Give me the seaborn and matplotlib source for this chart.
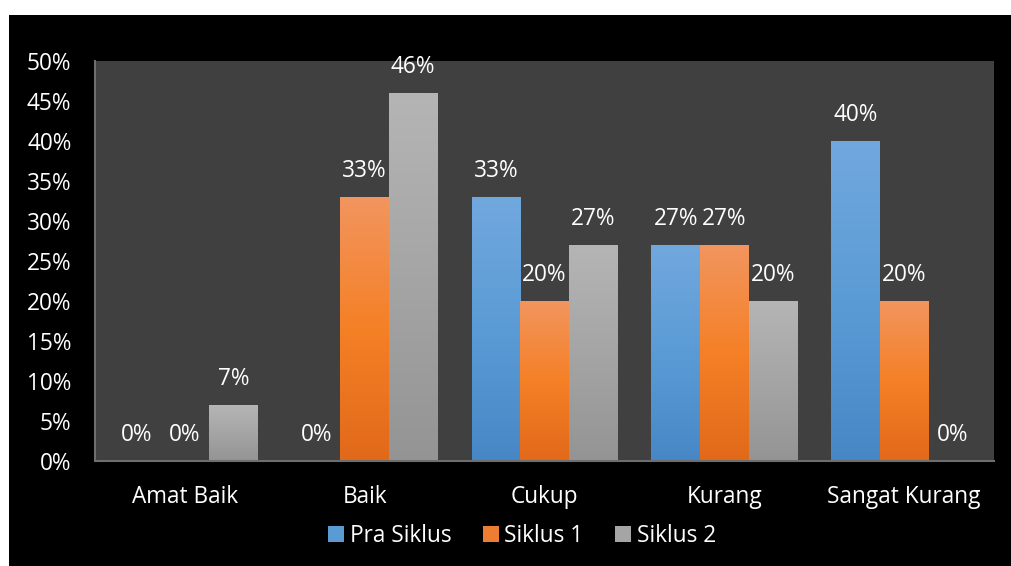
import numpy as np
import pandas as pd
import seaborn as sns
import matplotlib
matplotlib.use("Agg")
import matplotlib.pyplot as plt
from matplotlib.patches import Rectangle, Patch
from matplotlib.colors import LinearSegmentedColormap

categories = ["Amat Baik", "Baik", "Cukup", "Kurang", "Sangat Kurang"]
series_names = ["Pra Siklus", "Siklus 1", "Siklus 2"]
pra_siklus = [0, 0, 33, 27, 40]
siklus_1 = [0, 33, 20, 27, 20]
siklus_2 = [7, 46, 27, 20, 0]
y_ticks = [0, 5, 10, 15, 20, 25, 30, 35, 40, 45, 50]

base_colors = ["#5b9bd5", "#ed7d31", "#a5a5a5"]
grad_stops = [
    ["#71a8de", "#5b9bd5", "#4787c6"],
    ["#f2955f", "#f58026", "#e1691a"],
    ["#b5b5b5", "#a5a5a5", "#949494"],
]

df = pd.DataFrame({
    "Kategori": categories * 3,
    "Nilai": pra_siklus + siklus_1 + siklus_2,
    "Seri": [s for s in series_names for _ in categories],
})

sns.set_style("white")
plt.rcParams["font.family"] = ["Open Sans", "DejaVu Sans"]
FS = 16.3

fig = plt.figure(figsize=(10.11, 5.66), dpi=100, facecolor="white")
fig.patches.append(Rectangle((9 / 1011, 0), 1 - 9 / 1011, 551 / 566,
                             transform=fig.transFigure, facecolor="black",
                             edgecolor="none", zorder=-10))
ax = fig.add_axes([95 / 1011, 105 / 566, 899 / 1011, 400 / 566])
ax.set_facecolor("#404040")

sns.barplot(data=df, x="Kategori", y="Nilai", hue="Seri", palette=base_colors,
            width=0.81, saturation=1, ax=ax, legend=False, errorbar=None)

ax.set_ylim(0, 50)
xlim = ax.get_xlim()

# gradients + labels
for i, container in enumerate(ax.containers):
    cmap = LinearSegmentedColormap.from_list(f"g{i}", grad_stops[i][::-1])
    grad = np.linspace(0, 1, 256).reshape(-1, 1)
    for bar, val in zip(container, container.datavalues):
        x0, w, h = bar.get_x(), bar.get_width(), bar.get_height()
        if h > 0:
            ax.imshow(grad, extent=[x0, x0 + w, 0, h], origin="lower",
                      aspect="auto", cmap=cmap, zorder=2)
            bar.set_visible(False)
        ax.annotate(f"{int(val)}%", (x0 + w / 2, h), xytext=(0, 19),
                    textcoords="offset points", ha="center", va="center",
                    color="white", fontsize=FS)

ax.set_xlim(xlim)
ax.set_ylim(0, 50)
ax.set_yticks(y_ticks)
ax.set_yticklabels([f"{t}%" for t in y_ticks])
ax.tick_params(axis="y", length=0, pad=17, labelsize=FS, labelcolor="white")
ax.tick_params(axis="x", length=0, pad=17, labelsize=FS, labelcolor="white")
ax.set_xlabel("")
ax.set_ylabel("")
for s in ["top", "right"]:
    ax.spines[s].set_visible(False)
for s in ["left", "bottom"]:
    ax.spines[s].set_visible(True)
    ax.spines[s].set_color("#6e6e6e")
    ax.spines[s].set_linewidth(1.5)

handles = [Patch(facecolor=c, edgecolor="none", label=n) for c, n in zip(base_colors, series_names)]
fig.legend(handles=handles, loc="center", bbox_to_anchor=(522 / 1011, 1 - 536 / 566),
           ncol=3, frameon=False, fontsize=FS, labelcolor="white",
           handlelength=0.7, handleheight=0.7, handletextpad=0.25, columnspacing=1.4)

fig.savefig("out.png", dpi=100, facecolor=fig.get_facecolor())
